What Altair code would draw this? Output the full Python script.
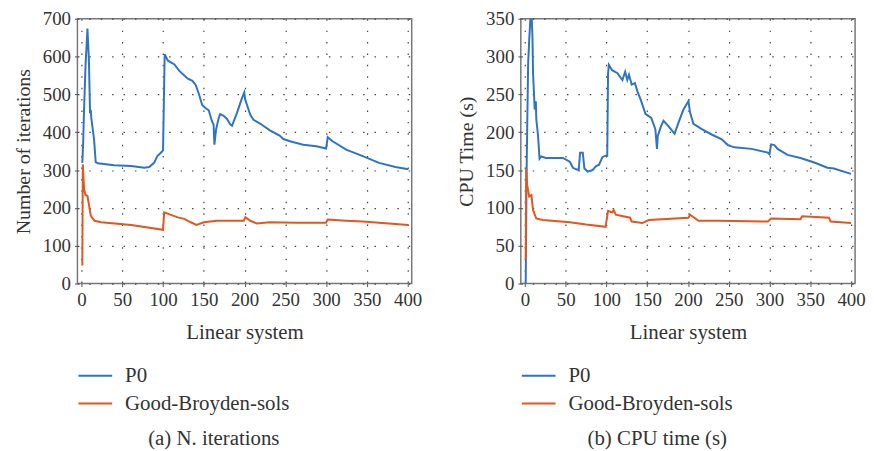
import altair as alt
import pandas as pd

SERIES = ["P0", "Good-Broyden-sols"]
COLORS = ["#2f74c1", "#e2561f"]

# (a) Number of iterations
iter_p0_x = [1, 2, 3, 5, 7.3, 8, 9, 10.5, 11.4, 12, 15.4, 17.4, 20, 40, 61, 77, 83, 89, 93, 97,
             100, 102, 106, 114, 120, 130, 136, 140, 144, 148, 152, 156, 160, 162, 163, 165, 168,
             170, 174, 178.5, 182.6, 184.6, 190.7, 196.8, 199.6, 200.8, 203, 207, 211, 219, 231,
             243, 247.5, 255.6, 272, 288, 300, 302, 308, 324.6, 345, 365, 385, 401]
iter_p0_y = [319, 370, 450, 580, 674, 640, 595, 450, 459, 437, 381, 321, 318, 313, 311, 306, 308,
             319, 337, 345, 352, 606, 589, 579, 562, 542, 536, 525, 501, 472, 464, 458, 429, 420,
             367, 407, 435, 448, 444, 435, 420, 417, 451, 490, 505, 486, 472, 446, 433, 423, 405,
             391, 382, 376, 367, 363, 357, 387, 376, 354, 337, 319, 308, 302]
iter_gb_x = [1, 1.6, 3.2, 4.9, 7.3, 9, 11.4, 16, 24, 61, 100, 101.4, 118, 126, 134, 141, 150, 166,
             199, 201, 207, 215, 231, 264, 300, 302, 324.6, 345, 401]
iter_gb_y = [48, 315, 249, 234, 232, 210, 179, 166, 162, 155, 142, 188, 175, 171, 162, 155, 162,
             166, 166, 175, 166, 159, 162, 161, 161, 169, 166, 164, 155]

# (b) CPU time (s)
cpu_p0_x = [1, 1.5, 2, 2.8, 4, 5.3, 7, 8, 9.3, 10, 11.3, 12, 13.4, 14, 16, 18, 20, 26, 46.6, 55,
            59, 63, 66, 67.7, 71, 73, 77, 83, 87, 91, 95, 99, 101, 102, 103, 107, 113.5, 119.6,
            123, 125.6, 127.7, 131, 135, 138, 142, 148, 155, 160, 162, 163, 167, 170, 176, 183.6,
            188.5, 194.5, 200.6, 202.6, 206.7, 217, 229, 241, 249, 257, 278, 298, 300, 302, 306,
            310, 322, 338, 355, 371, 379, 400]
cpu_p0_y = [0, 65, 139, 204, 291, 322, 355, 360, 326, 278, 248, 230, 241, 217, 197, 165, 168, 166,
            166, 161, 153, 151, 150, 173, 173, 152, 148, 150, 155, 157, 167, 169, 169, 277, 289,
            282, 278, 269, 280, 269, 276, 263, 265, 254, 243, 224, 219, 204, 178, 195, 208, 215,
            208, 198, 213, 230, 241, 226, 211, 204, 197, 191, 183, 180, 178, 173, 171, 184, 183,
            178, 170, 166, 160, 153, 152, 145]
cpu_gb_x = [1, 1.6, 2.8, 5.3, 8, 10, 14, 22, 55, 75, 99, 102, 107, 109, 111.5, 129, 131, 144, 152,
            200.6, 202.6, 213, 237, 298, 302, 338, 340, 373, 375, 400]
cpu_gb_y = [32, 152, 130, 115, 117, 97, 86, 84, 81, 78, 75, 96, 94, 97, 91, 87, 82, 80, 84, 87, 91,
            83, 83, 82, 86, 85, 89, 87, 82, 80]

X_TICKS = [0, 50, 100, 150, 200, 250, 300, 350, 400]
FONT = "Liberation Serif"


def frame(xs_a, ys_a, xs_b, ys_b):
    a = pd.DataFrame({"x": xs_a, "y": ys_a, "series": SERIES[0]})
    b = pd.DataFrame({"x": xs_b, "y": ys_b, "series": SERIES[1]})
    return pd.concat([a, b], ignore_index=True)


def panel(df, ytitle, ymax, ystep, caption):
    return alt.Chart(df).mark_line(strokeWidth=2, clip=True).encode(
        x=alt.X("x:Q", scale=alt.Scale(domain=[-5, 405], nice=False, zero=False),
                axis=alt.Axis(values=X_TICKS, title="Linear system", titlePadding=12,
                              titleFontSize=21)),
        y=alt.Y("y:Q", scale=alt.Scale(domain=[0, ymax], nice=False),
                axis=alt.Axis(values=list(range(0, ymax + 1, ystep)), title=ytitle,
                              titlePadding=9)),
        color=alt.Color("series:N", scale=alt.Scale(domain=SERIES, range=COLORS),
                        legend=alt.Legend(orient="none", legendX=0, legendY=342, title=None,
                                          symbolType="stroke", symbolSize=1156,
                                          symbolStrokeWidth=2, labelOffset=12, labelLimit=400,
                                          rowPadding=-10, labelFontSize=21, labelFont=FONT,
                                          labelColor="#333")),
    ).properties(
        width=337, height=267,
        title=alt.TitleParams(caption, orient="bottom", anchor="middle", fontSize=21,
                              font=FONT, fontWeight="normal", color="#333", offset=15, dx=-31),
    )


left = panel(frame(iter_p0_x, iter_p0_y, iter_gb_x, iter_gb_y),
             "Number of iterations", 700, 100, "(a) N. iterations")
right = panel(frame(cpu_p0_x, cpu_p0_y, cpu_gb_x, cpu_gb_y),
              "CPU Time (s)", 350, 50, "(b) CPU time (s)")

chart = alt.hconcat(left, right, spacing=33).resolve_scale(color="independent").properties(
    padding={"left": 4, "top": -1, "right": 0, "bottom": 0}
).configure(font=FONT).configure_view(
    stroke="#777", strokeWidth=1.5
).configure_axis(
    labelFont=FONT, labelFontSize=19, labelColor="#333",
    titleFont=FONT, titleFontSize=20, titleFontWeight="normal", titleColor="#333",
    grid=True, gridColor="#444", gridDash=[1.5, 10], gridWidth=1.2, gridOpacity=1,
    domain=False, tickColor="#555", tickSize=3, labelPadding=4,
)

chart.save("out.html", embed_options={"renderer": "svg", "actions": False})
